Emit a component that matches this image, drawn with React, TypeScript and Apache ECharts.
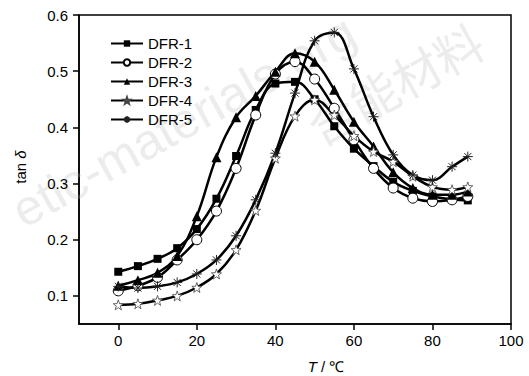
import React, { useEffect, useRef } from "react";
import * as echarts from "echarts";

const temperatures = [0, 5, 10, 15, 20, 25, 30, 35, 40, 45, 50, 55, 60, 65, 70, 75, 80, 85, 89];
const dfr1 = [0.143, 0.153, 0.166, 0.185, 0.219, 0.273, 0.349, 0.431, 0.478, 0.481, 0.45, 0.402, 0.362, 0.331, 0.303, 0.287, 0.277, 0.272, 0.27];
const dfr2 = [0.109, 0.118, 0.133, 0.164, 0.2, 0.251, 0.327, 0.422, 0.495, 0.517, 0.486, 0.434, 0.378, 0.327, 0.292, 0.274, 0.268, 0.271, 0.277];
const dfr3 = [0.118, 0.128, 0.141, 0.171, 0.242, 0.347, 0.418, 0.456, 0.499, 0.532, 0.517, 0.467, 0.41, 0.366, 0.32, 0.292, 0.28, 0.28, 0.286];
const dfr4 = [0.084, 0.086, 0.092, 0.1, 0.115, 0.139, 0.182, 0.252, 0.345, 0.42, 0.449, 0.422, 0.385, 0.357, 0.339, 0.313, 0.294, 0.289, 0.294];
const dfr5 = [0.117, 0.114, 0.117, 0.124, 0.139, 0.164, 0.207, 0.271, 0.354, 0.461, 0.554, 0.569, 0.504, 0.419, 0.351, 0.315, 0.306, 0.33, 0.348];
const seriesNames = ["DFR-1", "DFR-2", "DFR-3", "DFR-4", "DFR-5"];
const xTicks = [0, 20, 40, 60, 80, 100];
const yTicks = [0.1, 0.2, 0.3, 0.4, 0.5, 0.6];

const FONT = "'Liberation Sans', Arial, Helvetica, sans-serif";
const STAR =
  "path://M0,-10L2.35,-3.24L9.51,-3.09L3.8,1.24L5.88,8.09L0,4L-5.88,8.09L-3.8,1.24L-9.51,-3.09L-2.35,-3.24Z";
const ASTER = "path://M0,-10L0,10M-10,0L10,0M-7.07,-7.07L7.07,7.07M-7.07,7.07L7.07,-7.07";

export default function App() {
  const ref = useRef<HTMLDivElement>(null);
  useEffect(() => {
    const chart = echarts.init(ref.current!, null, { renderer: "svg" });
    const values = [dfr1, dfr2, dfr3, dfr4, dfr5];
    const styles = [
      { symbol: "rect", symbolSize: 8, itemStyle: { color: "#000", borderColor: "#000", borderWidth: 0 } },
      { symbol: "circle", symbolSize: 10, itemStyle: { color: "#fff", borderColor: "#000", borderWidth: 1 } },
      { symbol: "triangle", symbolSize: 10, itemStyle: { color: "#000", borderColor: "#000", borderWidth: 0 } },
      { symbol: STAR, symbolSize: 10, itemStyle: { color: "#fff", borderColor: "#444", borderWidth: 0.8 } },
      { symbol: ASTER, symbolSize: 10, itemStyle: { color: "transparent", borderColor: "#222", borderWidth: 1 } },
    ];
    const series = seriesNames.map((name, i) => ({
      name,
      type: "line",
      smooth: 0.4,
      data: temperatures.map((t, j) => [t, values[i][j]]),
      lineStyle: { color: "#000", width: 2.5 },
      ...styles[i],
      z: 3,
    }));
    chart.setOption({
      animation: false,
      backgroundColor: "#fff",
      grid: {
        left: 79,
        right: 18,
        top: 15,
        bottom: 52,
        show: true,
        borderColor: "#000",
        borderWidth: 1.5,
      },
      legend: {
        data: seriesNames,
        orient: "vertical",
        left: 105,
        top: 31,
        itemWidth: 32,
        itemHeight: 8,
        itemGap: 4,
        textStyle: { fontSize: 15, color: "#000", fontFamily: FONT },
      },
      xAxis: {
        type: "value",
        min: -10,
        max: 100,
        axisLine: { show: true, onZero: false, lineStyle: { color: "#000", width: 1.5 } },
        axisTick: { show: true, length: 6, customValues: xTicks, lineStyle: { color: "#000", width: 1.5 } },
        axisLabel: { customValues: xTicks, color: "#000", fontSize: 15, fontFamily: FONT, margin: 9 },
        splitLine: { show: false },
      },
      yAxis: {
        type: "value",
        min: 0.05,
        max: 0.6,
        axisLine: { show: true, onZero: false, lineStyle: { color: "#000", width: 1.5 } },
        axisTick: { show: true, length: 6, customValues: yTicks, lineStyle: { color: "#000", width: 1.5 } },
        axisLabel: {
          customValues: yTicks,
          color: "#000",
          fontSize: 15,
          fontFamily: FONT,
          margin: 11,
          formatter: (v: number) => v.toFixed(1),
        },
        splitLine: { show: false },
      },
      graphic: [
        {
          type: "text",
          z: 0,
          silent: true,
          x: 28,
          y: 236,
          rotation: (29 * Math.PI) / 180,
          style: {
            text: "etic-materials.org",
            fontSize: 50,
            fontFamily: FONT,
            fill: "#ececec",
            textAlign: "left",
            textVerticalAlign: "bottom",
          },
        },
        {
          type: "text",
          z: 0,
          silent: true,
          x: 322,
          y: 150,
          rotation: (29 * Math.PI) / 180,
          style: {
            text: "含能材料",
            fontSize: 48,
            fontFamily: "'Noto Sans CJK SC', sans-serif",
            fill: "#ececec",
            textAlign: "left",
            textVerticalAlign: "bottom",
          },
        },
        {
          type: "text",
          z: 10,
          x: 326,
          y: 366,
          style: {
            text: "{i|T} / ℃",
            rich: { i: { fontStyle: "italic", fontSize: 15, fontFamily: FONT, fill: "#000" } },
            fontSize: 15,
            fontFamily: FONT,
            fill: "#000",
            textAlign: "center",
            textVerticalAlign: "middle",
          },
        },
        {
          type: "text",
          z: 10,
          x: 20,
          y: 167,
          rotation: Math.PI / 2,
          style: {
            text: "tan {i|δ}",
            rich: { i: { fontStyle: "italic", fontSize: 15, fontFamily: FONT, fill: "#000" } },
            fontSize: 15,
            fontFamily: FONT,
            fill: "#000",
            textAlign: "center",
            textVerticalAlign: "middle",
          },
        },
      ],
      series,
    });
    return () => chart.dispose();
  }, []);
  return <div ref={ref} style={{ position: "absolute", left: 0, top: 0, width: 529, height: 376 }} />;
}
